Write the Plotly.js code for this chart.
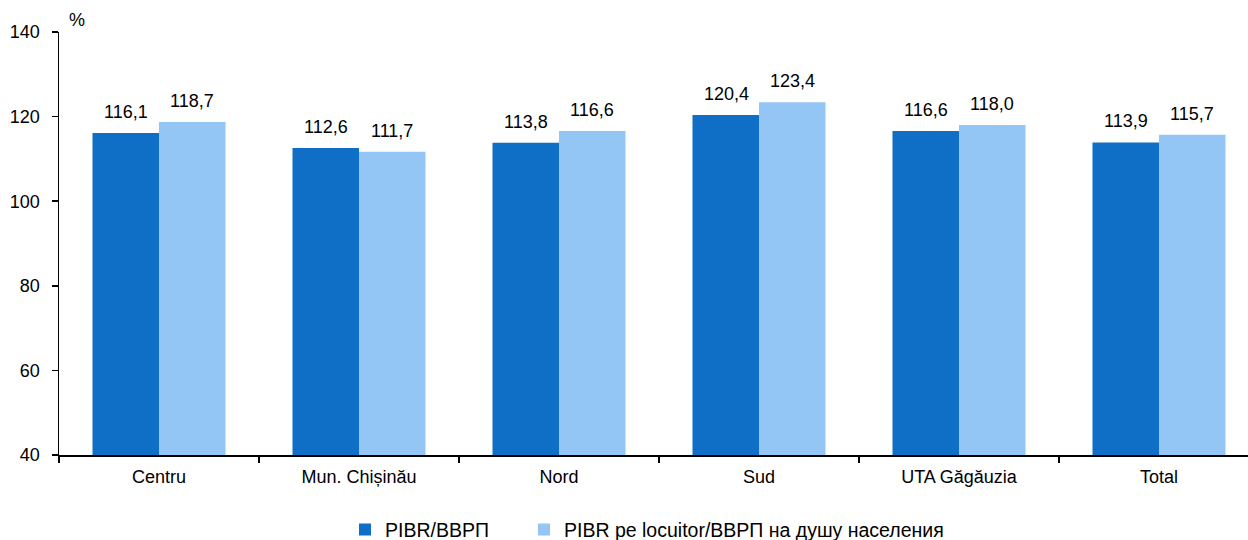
<!DOCTYPE html>
<html><head><meta charset="utf-8">
<script src="https://cdn.plot.ly/plotly-3.0.1.min.js"></script>
<style>html,body{margin:0;padding:0;overflow:hidden;background:#fff}</style>
</head><body><div id="chart"></div>
<script>
const categories = ["Centru", "Mun. Chișinău", "Nord", "Sud", "UTA Găgăuzia", "Total"];
const seriesNames = ["PIBR/ВВРП", "PIBR pe locuitor/ВВРП на душу населения"];
const pibr = [116.1, 112.6, 113.8, 120.4, 116.6, 113.9];
const pibrPerCapita = [118.7, 111.7, 116.6, 123.4, 118.0, 115.7];
const yTicks = [40, 60, 80, 100, 120, 140];

const W = 1270;
const font = {family: "Liberation Sans, Arial, sans-serif", size: 18, color: "#000"};
const legendFont = {family: "Liberation Sans, Arial, sans-serif", size: 19.5, color: "#000"};
const fmt = v => v.toFixed(1).replace(".", ",");
const traces = [
  {type: "bar", name: seriesNames[0], x: categories, y: pibr, marker: {color: "#0F6FC6"}, legend: "legend"},
  {type: "bar", name: seriesNames[1], x: categories, y: pibrPerCapita, marker: {color: "#94C6F5"}, legend: "legend2"}
];
const annotations = [];
[pibr, pibrPerCapita].forEach((arr, s) => {
  arr.forEach((v, i) => {
    annotations.push({x: categories[i], y: v, xref: "x", yref: "y", text: fmt(v), showarrow: false,
      xanchor: "center", yanchor: "bottom", xshift: s === 0 ? -33 : 33, yshift: 9, font: font});
  });
});
annotations.push({text: "%", xref: "paper", yref: "paper", x: 0, y: 1, xanchor: "left", yanchor: "bottom",
  xshift: 8, yshift: 0, showarrow: false, font: font});
const legendBase = {orientation: "h", xref: "container", xanchor: "left", yref: "container", y: 0.019,
  yanchor: "middle", font: legendFont, bgcolor: "rgba(0,0,0,0)"};
const layout = {
  width: W, height: 540,
  margin: {l: 59, r: 11, t: 32, b: 85},
  paper_bgcolor: "#fff", plot_bgcolor: "#fff",
  font: font,
  barmode: "group", bargap: 0.335, bargroupgap: 0,
  showlegend: true,
  legend: Object.assign({}, legendBase, {x: 345 / W}),
  legend2: Object.assign({}, legendBase, {x: 524 / W}),
  xaxis: {type: "category", range: [-0.5, 5.5], showline: true, linecolor: "#000", linewidth: 1.5,
    ticks: "outside", tickson: "boundaries", ticklen: 6, tickcolor: "#000", tickwidth: 1.5,
    ticklabelstandoff: 5, showgrid: false, tickfont: font, fixedrange: true},
  yaxis: {range: [40, 140], tickvals: yTicks, showline: true, linecolor: "#000", linewidth: 1.5,
    ticks: "outside", ticklen: 6, tickcolor: "#000", tickwidth: 1.5, showgrid: false, zeroline: false,
    ticklabelstandoff: 8, tickfont: font, fixedrange: true},
  annotations: annotations
};
Plotly.newPlot("chart", traces, layout, {displayModeBar: false, staticPlot: true});
</script></body></html>
